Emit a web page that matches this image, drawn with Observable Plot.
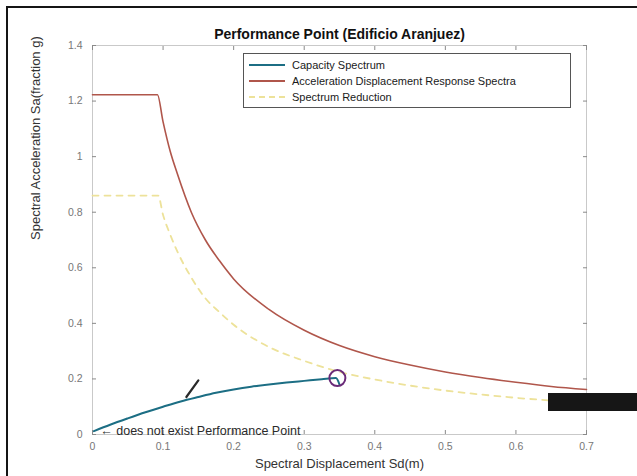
<!DOCTYPE html>
<html>
<head>
<meta charset="utf-8">
<script src="https://cdn.jsdelivr.net/npm/d3@7"></script>
<script src="https://cdn.jsdelivr.net/npm/@observablehq/plot@0.6"></script>
<style>
  html, body { margin: 0; padding: 0; background: #fff; }
  #wrap { position: relative; width: 637px; height: 476px; overflow: hidden; background: #fff; font-family: "Liberation Sans", Arial, sans-serif; }
  #wrap svg { position: absolute; left: 0; top: 0; }
  #border { position: absolute; left: 6px; top: 6px; width: 640px; height: 480px; border-left: 2px solid #151515; border-top: 2px solid #151515; pointer-events: none; }
  #legend { position: absolute; left: 243px; top: 53px; width: 328px; height: 55px; border: 1px solid #555; background: #fff; box-sizing: border-box; }
  .row { position: absolute; left: 0; height: 16px; display: flex; align-items: center; font-size: 11px; color: #1a1a1a; }
  .swatch { width: 36px; margin-left: 5px; margin-right: 7px; }
  #redact { position: absolute; left: 548px; top: 393px; width: 89px; height: 18px; background: #161616; }
</style>
</head>
<body>
<div id="wrap"></div>
<script>
// Capacity spectrum
const capSd = [0.002, 0.025, 0.05, 0.075, 0.1, 0.125, 0.15, 0.175, 0.2, 0.225, 0.25, 0.275, 0.3, 0.325, 0.345, 0.35];
const capSa = [0.012, 0.035, 0.058, 0.080, 0.100, 0.119, 0.135, 0.150, 0.162, 0.172, 0.180, 0.187, 0.193, 0.199, 0.203, 0.180];
// Acceleration Displacement Response Spectra
const adrsSd = [0, 0.092, 0.1, 0.11, 0.12, 0.14, 0.16, 0.18, 0.2, 0.25, 0.3, 0.35, 0.4, 0.45, 0.5, 0.55, 0.6, 0.65, 0.7];
const adrsSa = [1.223, 1.223, 1.125, 1.02, 0.94, 0.80, 0.70, 0.625, 0.56, 0.45, 0.375, 0.32, 0.28, 0.25, 0.225, 0.205, 0.188, 0.173, 0.162];
// Spectrum reduction
const redSd = [0, 0.093, 0.1, 0.11, 0.12, 0.14, 0.16, 0.18, 0.2, 0.25, 0.3, 0.35, 0.4, 0.45, 0.5, 0.55, 0.6, 0.65, 0.7];
const redSa = [0.86, 0.86, 0.79, 0.72, 0.66, 0.565, 0.49, 0.44, 0.395, 0.315, 0.265, 0.225, 0.198, 0.176, 0.158, 0.144, 0.132, 0.122, 0.113];
// Performance point marker and pencil mark
const perfSd = [0.347];
const perfSa = [0.203];
const markSd = [0.133, 0.150];
const markSa = [0.135, 0.195];
// Axis ticks
const xTicks = [0, 0.1, 0.2, 0.3, 0.4, 0.5, 0.6, 0.7];
const yTicks = [0, 0.2, 0.4, 0.6, 0.8, 1, 1.2, 1.4];
const titleText = "Performance Point (Edificio Aranjuez)";
const xLabel = "Spectral Displacement Sd(m)";
const yLabel = "Spectral Acceleration Sa(fraction g)";
const note = "\u2190 does not exist Performance Point";
const seriesNames = ["Capacity Spectrum", "Acceleration Displacement Response Spectra", "Spectrum Reduction"];
const colors = { cap: "#1c6e84", adrs: "#b0564b", red: "#ede29a", perf: "#6a2a78" };

const cap = capSd.map((d, i) => ({ sd: d, sa: capSa[i] }));
const adrs = adrsSd.map((d, i) => ({ sd: d, sa: adrsSa[i] }));
const red = redSd.map((d, i) => ({ sd: d, sa: redSa[i] }));
const perf = perfSd.map((d, i) => ({ sd: d, sa: perfSa[i] }));
const fmt = d => String(d);
const blank = () => "";

const chart = Plot.plot({
  width: 637, height: 476,
  marginLeft: 92, marginRight: 51, marginTop: 45, marginBottom: 42,
  style: { fontFamily: "'Liberation Sans', Arial, sans-serif", background: "transparent" },
  x: { domain: [0, 0.7], label: null },
  y: { domain: [0, 1.4], label: null },
  marks: [
    Plot.frame({ stroke: "#c9c9c9" }),
    Plot.axisX({ ticks: xTicks, tickFormat: fmt, tickSize: 0, tickPadding: 8, fill: "#777", fontSize: 10.5, label: null }),
    Plot.axisX({ ticks: xTicks, tickFormat: blank, tickSize: -4, stroke: "#8a8a8a", label: null }),
    Plot.axisX({ anchor: "top", ticks: xTicks, tickFormat: blank, tickSize: -4, stroke: "#8a8a8a", label: null }),
    Plot.axisY({ ticks: yTicks, tickFormat: fmt, tickSize: 0, tickPadding: 10, fill: "#777", fontSize: 10.5, label: null }),
    Plot.axisY({ ticks: yTicks, tickFormat: blank, tickSize: -4, stroke: "#8a8a8a", label: null }),
    Plot.axisY({ anchor: "right", ticks: yTicks, tickFormat: blank, tickSize: -4, stroke: "#8a8a8a", label: null }),
    Plot.line(red, { x: "sd", y: "sa", stroke: colors.red, strokeWidth: 1.8, strokeDasharray: "6,6", curve: "monotone-x" }),
    Plot.line(adrs, { x: "sd", y: "sa", stroke: colors.adrs, strokeWidth: 1.6, curve: "monotone-x" }),
    Plot.line(cap, { x: "sd", y: "sa", stroke: colors.cap, strokeWidth: 2, curve: "monotone-x" }),
    Plot.dot(perf, { x: "sd", y: "sa", r: 8, stroke: colors.perf, strokeWidth: 2 }),
    Plot.line(markSd.map((d, i) => ({ sd: d, sa: markSa[i] })), { x: "sd", y: "sa", stroke: "#2a2a2a", strokeWidth: 2.2 }),
    Plot.text([note], { x: [0.011], y: [0.014], text: d => d, textAnchor: "start", fontSize: 12.5, fill: "#2a2a2a" }),
    Plot.text([titleText], { frameAnchor: "top", dy: -16, text: d => d, fontSize: 14, fontWeight: "bold", fill: "#111" }),
    Plot.text([xLabel], { frameAnchor: "bottom", dy: 33, text: d => d, fontSize: 13, fill: "#333" }),
    Plot.text([yLabel], { frameAnchor: "left", dx: -57, rotate: -90, text: d => d, fontSize: 13, fill: "#333" })
  ]
});

const wrap = document.getElementById("wrap");
wrap.appendChild(chart);

const legend = document.createElement("div");
legend.id = "legend";
const styles = [
  `border-top: 2.5px solid ${colors.cap}`,
  `border-top: 2px solid ${colors.adrs}`,
  `border-top: 2px dashed ${colors.red}`
];
seriesNames.forEach((name, i) => {
  const row = document.createElement("div");
  row.className = "row";
  row.style.top = (3 + i * 16) + "px";
  const sw = document.createElement("div");
  sw.className = "swatch";
  sw.style.cssText = styles[i];
  const label = document.createElement("span");
  label.textContent = name;
  row.appendChild(sw);
  row.appendChild(label);
  legend.appendChild(row);
});
wrap.appendChild(legend);

const redact = document.createElement("div");
redact.id = "redact";
wrap.appendChild(redact);
const border = document.createElement("div");
border.id = "border";
wrap.appendChild(border);
</script>
</body>
</html>
